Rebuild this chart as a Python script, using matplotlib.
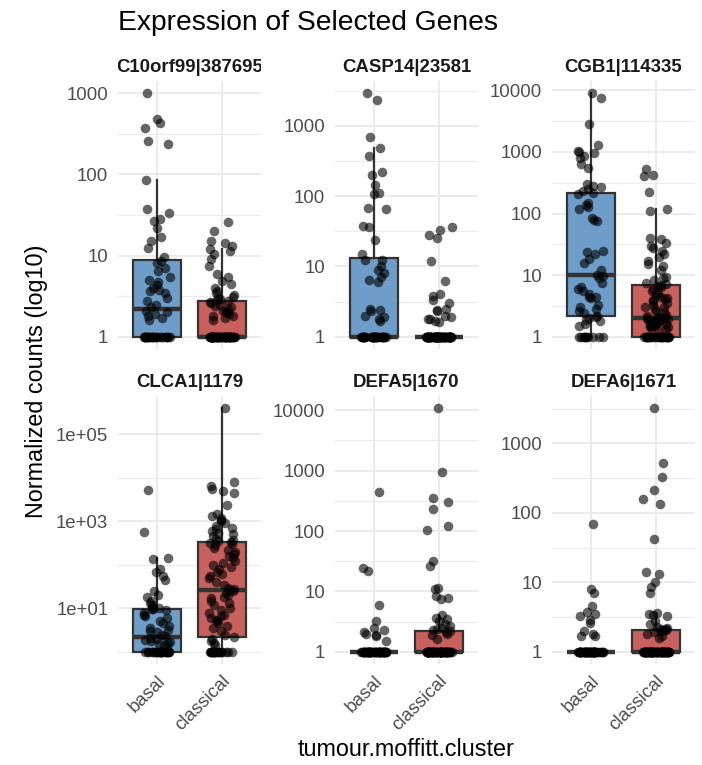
import numpy as np
import matplotlib
matplotlib.use("Agg")
import matplotlib.pyplot as plt
from matplotlib import cbook
from matplotlib.transforms import Bbox, TransformedBbox

plt.rcParams["font.family"] = ["Liberation Sans", "DejaVu Sans"]

# genes shown, one facet each
genes = ["C10orf99|387695", "CASP14|23581", "CGB1|114335",
         "CLCA1|1179", "DEFA5|1670", "DEFA6|1671"]
groups = ["basal", "classical"]

# normalized counts; values above 1 plus the number of samples sitting at 1
c10orf99_basal = [1000, 480, 430, 370, 260, 235, 85, 38, 33, 28, 27, 22, 17, 15, 12.5, 9.5,
                  8.5, 8.0, 7, 6.5, 5.5, 5, 4.7, 4.3, 4, 3.8, 3.7, 3.5, 3.0, 2.8, 2.5, 2.3,
                  2.1, 2.0, 1.9, 1.8, 1.7, 1.6]
c10orf99_basal_ones = 26
c10orf99_classical = [26, 20, 15, 14.5, 13, 12, 11.5, 10.5, 9, 7.5, 6, 5.5, 4.8, 4.5, 4, 3.7,
                      3.5, 3.3, 3.1, 3.0, 2.9, 2.85, 2.8, 2.7, 2.6, 2.5, 2.4, 2.3, 2.2, 2.1,
                      2.0, 2.0, 1.9, 1.8, 1.8, 1.7, 1.6]
c10orf99_classical_ones = 55

casp14_basal = [2900, 2300, 700, 480, 370, 220, 200, 145, 110, 108, 68, 65, 37, 36, 24, 15,
                12.5, 12.3, 10, 9, 8, 7, 6.5, 6, 2.5, 2.4, 2.3, 2.0, 1.9, 1.8, 1.7]
casp14_basal_ones = 33
casp14_classical = [36, 33, 28, 25, 12, 6.3, 4, 3.8, 3.3, 3.0, 2.5, 2.4, 2.3, 2.0, 1.9, 1.8,
                    1.8, 1.7, 1.6]
casp14_classical_ones = 73

cgb1_basal = [9000, 7500, 2800, 1300, 1050, 1000, 950, 850, 800, 650, 550, 300, 280, 270, 250,
              230, 215, 210, 150, 140, 130, 120, 85, 80, 75, 25, 24, 22, 18, 16, 12, 10.2, 9.8,
              9, 7.5, 6.5, 6, 5.5, 5, 4.5, 4.5, 4.2, 3.3, 3, 2.8, 2.6, 2.4, 2.15, 2.1, 2.0,
              1.9, 1.8, 1.6, 1.5]
cgb1_basal_ones = 10
cgb1_classical = [530, 430, 400, 220, 120, 112, 40, 38, 33, 30, 28, 25, 22, 20, 17, 15, 14, 12,
                  9.5, 9, 8.5, 7.5, 7.2, 7.0, 6.8, 6.5, 6, 5.5, 5, 4.7, 4.5, 4.3, 4.1, 4, 3.8,
                  3.5, 3.3, 3.1, 3, 2.8, 2.6, 2.5, 2.3, 2.2, 2.1, 2.05, 2.0, 2.0, 2.0, 1.95,
                  1.9, 1.9, 1.85, 1.8, 1.8, 1.75, 1.7, 1.7, 1.65, 1.6, 1.6, 1.55, 1.5, 1.5,
                  1.45, 1.4, 1.35, 1.3]
cgb1_classical_ones = 24

clca1_basal = [5300, 580, 145, 135, 80, 70, 55, 45, 25, 20, 18, 15, 13, 12, 11, 10, 9.6, 9.4,
               9, 8, 7, 6.5, 6, 5, 4.5, 4, 3.5, 3.2, 3, 2.8, 2.5, 2.3, 2.1, 2.0, 1.9, 1.8,
               1.7, 1.6, 1.5, 1.4, 1.3]
clca1_basal_ones = 23
clca1_classical = [400000, 8000, 6500, 5500, 5000, 4500, 2400, 1500, 1300, 1200, 1100, 1000,
                   900, 800, 700, 650, 600, 550, 500, 450, 400, 380, 350, 330, 320, 300, 280,
                   250, 220, 200, 180, 160, 140, 120, 110, 100, 90, 80, 70, 60, 55, 50, 40,
                   35, 30, 28, 26, 25, 22, 20, 18, 17, 15, 13, 12, 10, 9, 8, 7, 6.5, 6, 5.5,
                   5, 4.5, 4, 3.5, 3, 2.5, 2.2, 2.0, 1.8, 1.6, 1.4]
clca1_classical_ones = 19

defa5_basal = [450, 24, 22, 6, 3.2, 2.5, 2.3, 2.1, 2.0, 1.9, 1.8, 1.5]
defa5_basal_ones = 52
defa5_classical = [10800, 950, 350, 300, 230, 120, 105, 32, 26, 11.5, 11, 8.5, 7.8, 7.5, 4,
                   3.6, 3.5, 3.2, 2.9, 2.7, 2.5, 2.4, 2.3, 2.2, 2.15, 2.0, 1.9, 1.6]
defa5_classical_ones = 64

defa6_basal = [68, 8, 7, 4.5, 3.8, 3.5, 3.3, 2.9, 2.6, 2.0, 1.8, 1.7, 1.7]
defa6_basal_ones = 51
defa6_classical = [3200, 520, 330, 210, 160, 135, 42, 14, 13, 10, 8.5, 7, 3.6, 3.5, 3.4, 3.3,
                   2.8, 2.5, 2.3, 2.2, 2.15, 2.1, 2.08, 2.05, 2.0, 1.9, 1.8, 1.7, 1.6]
defa6_classical_ones = 63

# y breaks and their labels per facet
y_breaks = [[1, 10, 100, 1000], [1, 10, 100, 1000], [1, 10, 100, 1000, 10000],
            [10, 1000, 100000], [1, 10, 100, 1000, 10000], [1, 10, 100, 1000]]
y_labels = [["1", "10", "100", "1000"], ["1", "10", "100", "1000"],
            ["1", "10", "100", "1000", "10000"], ["1e+01", "1e+03", "1e+05"],
            ["1", "10", "100", "1000", "10000"], ["1", "10", "100", "1000"]]

panel_data = [
    (c10orf99_basal, c10orf99_basal_ones, c10orf99_classical, c10orf99_classical_ones),
    (casp14_basal, casp14_basal_ones, casp14_classical, casp14_classical_ones),
    (cgb1_basal, cgb1_basal_ones, cgb1_classical, cgb1_classical_ones),
    (clca1_basal, clca1_basal_ones, clca1_classical, clca1_classical_ones),
    (defa5_basal, defa5_basal_ones, defa5_classical, defa5_classical_ones),
    (defa6_basal, defa6_basal_ones, defa6_classical, defa6_classical_ones),
]

fill_colors = ["#6f9dc9", "#c8605e"]
W, H = 702, 765


def log_box_stats(vals):
    # ggplot computes the box on the log10 scale
    st = cbook.boxplot_stats(np.log10(vals), whis=1.5)[0]
    for k in ("med", "q1", "q3", "whislo", "whishi", "mean"):
        st[k] = 10 ** st[k]
    st["fliers"] = []
    return st


fig = plt.figure(figsize=(W / 100, H / 100), dpi=100)
rng = np.random.default_rng(11)

col_left = [118, 335, 552]
row_top = [81, 396]
pw, ph = 143, 268

for i, gene in enumerate(genes):
    r, c = divmod(i, 3)
    x0, y0 = col_left[c], row_top[r]
    ax = fig.add_axes([x0 / W, 1 - (y0 + ph) / H, pw / W, ph / H])
    b_vals, b_ones, c_vals, c_ones = panel_data[i]
    series = [np.array(b_vals + [1.0] * b_ones), np.array(c_vals + [1.0] * c_ones)]

    stats = [log_box_stats(v) for v in series]
    bp = ax.bxp(stats, positions=[1, 2], widths=0.75, patch_artist=True,
                showfliers=False, showcaps=False,
                boxprops=dict(edgecolor="#333333", linewidth=1.6),
                whiskerprops=dict(color="#333333", linewidth=1.6),
                medianprops=dict(color="#333333", linewidth=3.2,
                                 solid_capstyle="butt"),
                zorder=2)
    for patch, col in zip(bp["boxes"], fill_colors):
        patch.set_facecolor(col)

    for j, v in enumerate(series):
        xs = (j + 1) + rng.uniform(-0.2, 0.2, size=len(v))
        ax.scatter(xs, v, s=48, color="black", alpha=0.6, linewidths=0, zorder=3)

    ax.set_yscale("log")
    br = y_breaks[i]
    ax.set_yticks(br)
    ax.set_yticklabels(y_labels[i])
    lb = np.log10(br)
    step = lb[1] - lb[0]
    mids = np.arange(lb[0] - step / 2, lb[-1] + step, step)
    ax.set_yticks(10 ** mids, minor=True)
    ax.set_yticklabels([], minor=True)

    allv = np.concatenate(series)
    lo, hi = np.log10(allv.min()), np.log10(allv.max())
    pad = 0.05 * (hi - lo)
    ax.set_ylim(10 ** (lo - pad), 10 ** (hi + pad))

    ax.set_xticks([1, 2])
    if r == 1:
        ax.set_xticklabels(groups, rotation=45, ha="right", va="top",
                           rotation_mode="anchor")
    else:
        ax.set_xticklabels([])
    ax.set_xlim(0.4, 2.6)
    ax.tick_params(axis="both", which="both", length=0, labelsize=13.4,
                   labelcolor="#4d4d4d")
    ax.tick_params(axis="y", pad=7)
    ax.tick_params(axis="x", pad=6)

    ax.set_axisbelow(True)
    ax.grid(True, which="major", color="#ebebeb", linewidth=1.4)
    ax.grid(True, which="minor", axis="y", color="#ebebeb", linewidth=0.9)
    for s in ax.spines.values():
        s.set_visible(False)

    t = ax.text(0.5, 1 + 9 / ph, gene, transform=ax.transAxes, ha="center",
                va="baseline", fontsize=13.4, fontweight="bold", color="#1a1a1a")
    t.set_clip_box(TransformedBbox(Bbox([[0, 1], [1, 1.2]]), ax.transAxes))
    t.set_clip_on(True)

fig.text(118 / W, 1 - 30 / H, "Expression of Selected Genes", ha="left",
         va="baseline", fontsize=20.3, color="black")
fig.text(37 / W, 1 - 381 / H, "Normalized counts (log10)", rotation=90,
         ha="center", va="center", fontsize=16.8, color="black")
fig.text(406 / W, 1 - 750 / H, "tumour.moffitt.cluster", ha="center",
         va="center", fontsize=16.8, color="black")

fig.savefig("out.png", dpi=100, facecolor="white")
